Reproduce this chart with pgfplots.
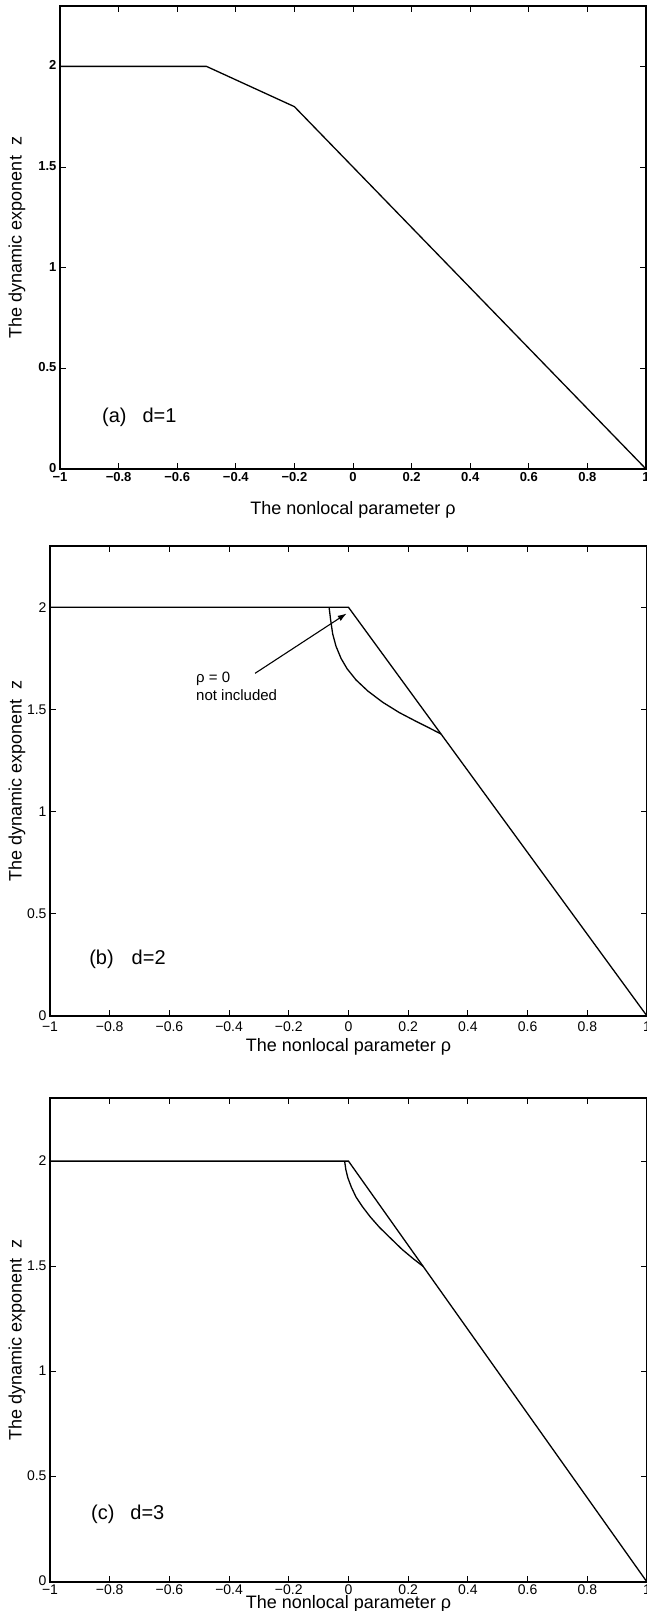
\documentclass[border=0pt]{standalone}
\usepackage{fontspec}
\setmainfont{Liberation Sans}
\usepackage{pgfplots}
\pgfplotsset{compat=1.18}
\usetikzlibrary{arrows.meta}

\newcommand{\labfont}{\fontsize{18}{20}\selectfont}
\pgfplotsset{
  zpanel/.style={
    scale only axis,
    xmin=-1, xmax=1, ymin=0, ymax=2.3,
    xtick={-1,-0.8,-0.6,-0.4,-0.2,0,0.2,0.4,0.6,0.8,1},
    xticklabels={−1,−0.8,−0.6,−0.4,−0.2,0,0.2,0.4,0.6,0.8,1},
    ytick={0,0.5,1,1.5,2},
    yticklabels={0,0.5,1,1.5,2},
    tick align=inside,
    major tick length=6pt,
    axis line style={line width=1.5pt},
    tick style={line width=1pt, black},
    ticklabel style={font=\fontsize{14}{16}\selectfont},
    ylabel={The dynamic exponent\ \ z},
    xlabel={The nonlocal parameter ρ},
  },
  zline/.style={black, line width=1.3pt, mark=none},
}
\tikzset{
  panellabel/.style={anchor=base west, inner sep=0pt, font=\fontsize{20}{22}\selectfont},
}

\begin{document}
\begin{tikzpicture}
\path[use as bounding box] (0,0) rectangle (647pt,-1611pt);

% (a) d=1
\begin{axis}[zpanel,
  at={(60pt,-469pt)}, anchor=south west,
  width=586pt, height=463pt,
  ticklabel style={font=\fontsize{13}{15}\selectfont\bfseries},
  yticklabel style={yshift=1pt},
  every axis y label/.style={at={(axis description cs:-0.0734,0.5)}, rotate=90, anchor=center, font=\labfont},
  every axis x label/.style={at={(axis description cs:0.5,-0.0886)}, anchor=center, font=\labfont},
]
\addplot[zline] coordinates {(-1,2) (-0.5,2) (-0.2,1.8) (1,0)};
\node[panellabel] at (axis cs:-0.857,0.233) {(a)\hspace{0.8em}d=1};
\end{axis}

% (b) d=2
\begin{axis}[zpanel,
  at={(50pt,-1016pt)}, anchor=south west,
  width=597pt, height=470pt,
  xticklabel style={yshift=-2pt},
  every axis y label/.style={at={(axis description cs:-0.0553,0.5)}, rotate=90, anchor=center, font=\labfont},
  every axis x label/.style={at={(axis description cs:0.5,-0.066)}, anchor=center, font=\labfont},
]
\addplot[zline] coordinates {(-1,2) (0,2) (1,0)};
\addplot[zline] coordinates {
  (-0.065,2.0) (-0.060,1.94) (-0.053,1.87) (-0.042,1.81) (-0.025,1.75)
  (-0.005,1.70) (0.025,1.645) (0.065,1.59) (0.115,1.535) (0.170,1.485)
  (0.225,1.443) (0.270,1.410) (0.310,1.38)
};
\draw[line width=1.1pt, -{Latex[length=9pt,width=6pt]}] (axis cs:-0.313,1.677) -- (axis cs:-0.006,1.97);
\node[anchor=base west, inner sep=0pt, font=\fontsize{15}{17}\selectfont] at (axis cs:-0.511,1.63) {ρ = 0};
\node[anchor=base west, inner sep=0pt, font=\fontsize{15}{17}\selectfont] at (axis cs:-0.511,1.542) {not included};
\node[panellabel] at (axis cs:-0.869,0.25) {(b)\hspace{0.9em}d=2};
\end{axis}

% (c) d=3
\begin{axis}[zpanel,
  at={(50pt,-1582pt)}, anchor=south west,
  width=597pt, height=484pt,
  xticklabel style={yshift=1pt},
  yticklabel style={yshift=1pt},
  every axis y label/.style={at={(axis description cs:-0.0553,0.5)}, rotate=90, anchor=center, font=\labfont},
  every axis x label/.style={at={(axis description cs:0.5,-0.0455)}, anchor=center, font=\labfont},
]
\addplot[zline] coordinates {(-1,2) (0,2) (1,0)};
\addplot[zline] coordinates {
  (-0.013,2.0) (-0.009,1.96) (-0.002,1.92) (0.010,1.875) (0.025,1.83)
  (0.046,1.785) (0.073,1.735) (0.104,1.685) (0.140,1.635) (0.180,1.58)
  (0.218,1.535) (0.25,1.5)
};
\node[panellabel] at (axis cs:-0.863,0.295) {(c)\hspace{0.8em}d=3};
\end{axis}
\end{tikzpicture}
\end{document}
